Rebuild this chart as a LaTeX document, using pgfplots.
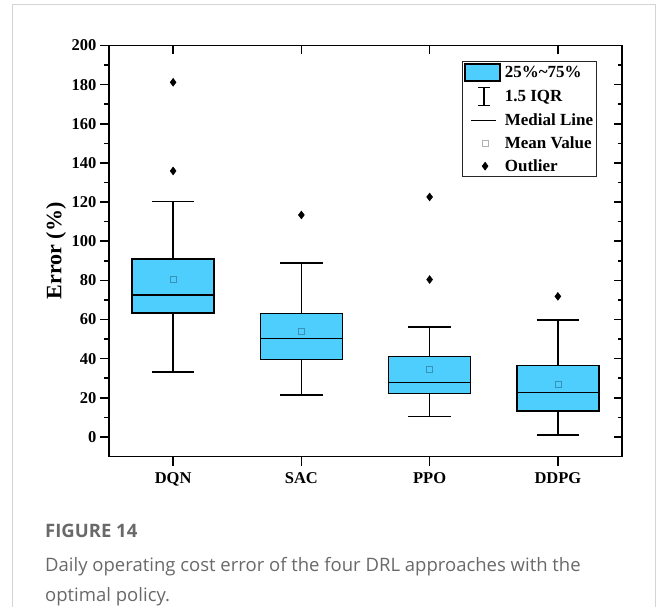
\documentclass[border=0pt]{standalone}
\usepackage{fontspec}
\setmainfont{Liberation Serif}
\newfontfamily\capfont{Open Sans}
\usepackage{pgfplots}
\pgfplotsset{compat=1.18}

\definecolor{boxcol}{RGB}{77,206,252}
\definecolor{meancol}{RGB}{55,145,185}
\definecolor{capgray}{RGB}{105,105,105}
\definecolor{framegray}{RGB}{212,212,212}

% box statistics: pos, lower whisker, Q1, median, Q3, upper whisker, mean
% DQN  1  33.3 63.3 72.4 90.8 120.2 80.6
% SAC  2  21.3 39.6 50.2 63.1  88.9 54.1
% PPO  3  10.5 22.1 27.9 41.0  56.3 34.7
% DDPG 4   0.9 13.1 22.6 36.4  59.7 26.9

\begin{document}
\begin{tikzpicture}
\useasboundingbox (0pt,0pt) rectangle (656pt,-607pt);
\draw[framegray, line width=1pt] (12.5pt,-607pt) -- (12.5pt,-4.5pt) -- (655.5pt,-4.5pt) -- (655.5pt,-607pt);

\begin{axis}[
    at={(109pt,-456.5pt)}, anchor=south west,
    scale only axis, width=513pt, height=411pt,
    xmin=0.5, xmax=4.5, ymin=-10, ymax=200,
    axis x line*=bottom, axis y line*=left,
    axis line style={line width=1.6pt},
    xtick={1,2,3,4}, xticklabels={DQN,SAC,PPO,DDPG},
    ytick={0,20,...,200}, minor y tick num=1,
    tick align=outside, major tick length=9pt, minor tick length=5pt,
    tick style={line width=1.5pt, black},
    /pgf/number format/assume math mode=true,
    tick label style={font=\fontsize{16.5}{18}\selectfont\bfseries},
    xticklabel style={yshift=-4pt},
    ylabel={Error (\%)},
    ylabel style={font=\fontsize{22}{24}\selectfont\bfseries, at={(axis description cs:-0.103,0.5)}, anchor=center},
    unbounded coords=jump,
    legend style={at={(rel axis cs:0.689,0.962)}, anchor=north west, draw=black!85, line width=0.8pt,
        font=\fontsize{17}{19}\selectfont\bfseries, inner sep=1.5pt, row sep=5.5pt,
        /tikz/every odd column/.append style={column sep=2pt}},
    legend cell align=left,
]
% whiskers
\addplot[forget plot, black, line width=1.6pt] coordinates {
    (1,33.3) (1,63.3) (1,nan) (1,90.8) (1,120.2) (1,nan)
    (2,21.3) (2,39.6) (2,nan) (2,63.1) (2,88.9) (2,nan)
    (3,10.5) (3,22.1) (3,nan) (3,41.0) (3,56.3) (3,nan)
    (4,0.9) (4,13.1) (4,nan) (4,36.4) (4,59.7)
};
% whisker caps
\addplot[forget plot, black, line width=1.6pt] coordinates {
    (0.835,33.3) (1.165,33.3) (1,nan) (0.835,120.2) (1.165,120.2) (1,nan)
    (1.835,21.3) (2.165,21.3) (2,nan) (1.835,88.9) (2.165,88.9) (2,nan)
    (2.835,10.5) (3.165,10.5) (3,nan) (2.835,56.3) (3.165,56.3) (3,nan)
    (3.835,0.9) (4.165,0.9) (4,nan) (3.835,59.7) (4.165,59.7)
};
% boxes (Q1 to Q3)
\addplot[forget plot, draw=black, fill=boxcol, line width=1.6pt] coordinates {(0.68,63.3) (1.32,63.3) (1.32,90.8) (0.68,90.8) (0.68,63.3)} -- cycle;
\addplot[forget plot, draw=black, fill=boxcol, line width=1.6pt] coordinates {(1.68,39.6) (2.32,39.6) (2.32,63.1) (1.68,63.1) (1.68,39.6)} -- cycle;
\addplot[forget plot, draw=black, fill=boxcol, line width=1.6pt] coordinates {(2.68,22.1) (3.32,22.1) (3.32,41.0) (2.68,41.0) (2.68,22.1)} -- cycle;
\addplot[forget plot, draw=black, fill=boxcol, line width=1.6pt] coordinates {(3.68,13.1) (4.32,13.1) (4.32,36.4) (3.68,36.4) (3.68,13.1)} -- cycle;
% medians
\addplot[forget plot, black, line width=1.6pt] coordinates {
    (0.68,72.4) (1.32,72.4) (1,nan) (1.68,50.2) (2.32,50.2) (2,nan)
    (2.68,27.9) (3.32,27.9) (3,nan) (3.68,22.6) (4.32,22.6)
};
% mean values
\addplot[forget plot, only marks, mark=square, mark size=3pt, mark options={draw=meancol, line width=0.7pt}]
    coordinates {(1,80.6) (2,54.1) (3,34.7) (4,26.9)};
% outliers
\addplot[forget plot, only marks, mark=diamond*, mark size=4pt, mark options={black, line width=0.4pt}]
    coordinates {(1,181.2) (1,135.9) (2,113.4) (3,122.6) (3,80.4) (4,71.8)};

% legend
\addlegendimage{legend image code/.code={\draw[fill=boxcol, draw=black, line width=1.5pt] (1pt,-8.5pt) rectangle (36pt,8.5pt);}}
\addlegendentry{25\%\textasciitilde75\%}
\addlegendimage{legend image code/.code={\draw[line width=1.4pt] (20pt,-9pt)--(20pt,9pt) (14pt,-9pt)--(26pt,-9pt) (14pt,9pt)--(26pt,9pt);}}
\addlegendentry{1.5 IQR}
\addlegendimage{legend image code/.code={\draw[line width=1.4pt] (7pt,0pt)--(32pt,0pt);}}
\addlegendentry{Medial Line}
\addlegendimage{legend image code/.code={\draw[gray!60, line width=0.7pt] (18pt,-3pt) rectangle (24pt,3pt);}}
\addlegendentry{Mean Value}
\addlegendimage{legend image code/.code={\fill[black] (21pt,-3.8pt)--(23.8pt,0pt)--(21pt,3.8pt)--(18.2pt,0pt)--cycle;}}
\addlegendentry{Outlier}
\end{axis}

% top/right ticks inside
\begin{axis}[
    at={(109pt,-456.5pt)}, anchor=south west,
    scale only axis, width=513pt, height=411pt,
    xmin=0.5, xmax=4.5, ymin=-10, ymax=200,
    axis x line*=top, axis y line*=right,
    axis line style={line width=1.6pt},
    xtick={1,2,3,4}, xticklabels={},
    ytick={0,20,...,200}, yticklabels={}, minor y tick num=1,
    tick align=inside, major tick length=8pt, minor tick length=4pt,
    tick style={line width=1.5pt, black},
]
\end{axis}

\node[anchor=base west, text=capgray, font=\capfont\bfseries\fontsize{18.5}{22}\selectfont, inner sep=0pt] at (45pt,-537pt) {FIGURE 14};
\node[anchor=base west, text=capgray, font=\capfont\fontsize{18.5}{22}\selectfont, inner sep=0pt] at (45pt,-571pt)
    {Daily operating cost error of the four DRL approaches with the};
\node[anchor=base west, text=capgray, font=\capfont\fontsize{18.5}{22}\selectfont, inner sep=0pt] at (45pt,-601pt)
    {optimal policy.};
\end{tikzpicture}
\end{document}
